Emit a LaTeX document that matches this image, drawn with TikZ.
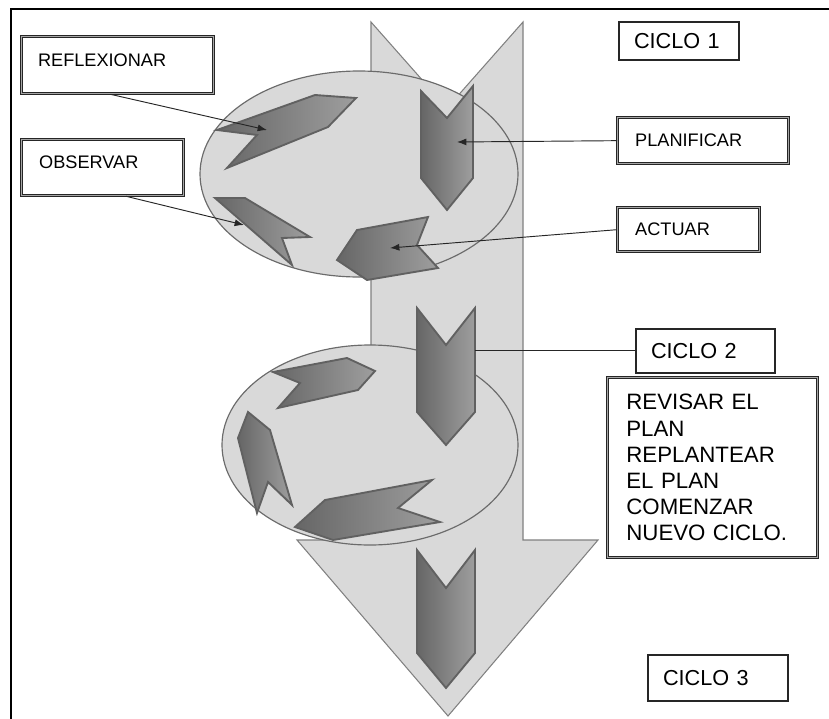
\documentclass[tikz,border=0pt]{standalone}
\usepackage{fontspec}
\setmainfont{Liberation Sans}
\usetikzlibrary{arrows.meta}

\tikzstyle{dbox} = [draw=black!85, double=black!35, double distance=0.8pt, line width=1.1pt, fill=white, anchor=north west, align=left, inner xsep=14pt, inner ysep=0pt, font=\fontsize{15.5}{18}\selectfont]
\tikzstyle{sbox} = [draw=black!85, line width=1.4pt, fill=white, anchor=north west, align=left, inner xsep=13pt, inner ysep=0pt, font=\fontsize{18.5}{21}\selectfont]
\tikzstyle{chev} = [draw=black!62, line width=1.6pt, left color=black!60, right color=black!38]
\tikzstyle{link} = [black!85, line width=0.8pt]

\begin{document}
\begin{tikzpicture}[x=0.03cm, y=-0.03cm, >={Latex[length=8pt,width=6pt]}]
	\useasboundingbox (0,0) rectangle (829,719);
	% frame
	\draw[line width=1.6pt] (11,719) -- (11,9) -- (829,9);
	% big arrow
	\draw[fill=black!15, draw=black!50, line width=0.9pt] (371,22) -- (447,108) -- (523,22) -- (523,540) -- (598,540) -- (448,716) -- (297,540) -- (371,540) -- cycle;
	% cycles
	\draw[fill=black!15, draw=black!58, line width=1pt] (359,174) ellipse [x radius=159, y radius=103];
	\draw[fill=black!15, draw=black!58, line width=1pt] (370,445) ellipse [x radius=148, y radius=100];
	% chevrons, cycle 1
	\draw[chev] (421,91) -- (447,118) -- (473,86) -- (473,178) -- (447,210) -- (421,178) -- cycle;
	\draw[chev] (217,130) -- (315,95) -- (356,98) -- (328,127) -- (227,168) -- (257,135) -- cycle;
	\draw[chev] (215,198) -- (245,198) -- (310,237) -- (282,238) -- (292,265) -- cycle;
	\draw[chev] (337,260) -- (357,230) -- (428,217) -- (417,245) -- (438,268) -- (367,280) -- cycle;
	% chevrons, cycle 2
	\draw[chev] (417,308) -- (446,345) -- (475,308) -- (475,412) -- (446,445) -- (417,412) -- cycle;
	\draw[chev] (273,372) -- (347,358) -- (375,371) -- (358,390) -- (278,408) -- (300,383) -- cycle;
	\draw[chev] (248,412) -- (270,430) -- (292,505) -- (268,482) -- (257,513) -- (238,438) -- cycle;
	\draw[chev] (295,527) -- (325,500) -- (432,480) -- (398,508) -- (440,522) -- (333,540) -- cycle;
	% chevron, cycle 3
	\draw[chev] (417,550) -- (446,588) -- (475,550) -- (475,653) -- (446,688) -- (417,653) -- cycle;
	% labels
	\node[dbox, minimum width=163.9pt, minimum height=48.7pt, text width=135.9pt, text depth=8pt] (reflexionar) at (21,36) {REFLEXIONAR};
	\node[dbox, minimum width=138.3pt, minimum height=47.8pt, text width=108.3pt, inner xsep=15pt, text depth=10pt] (observar) at (21,139) {OBSERVAR};
	\node[dbox, minimum width=146pt, minimum height=39.3pt, text width=116pt, inner xsep=15pt] (planificar) at (617,117) {PLANIFICAR};
	\node[dbox, minimum width=121.2pt, minimum height=37.6pt, text width=91.2pt, inner xsep=15pt] (actuar) at (617,207) {ACTUAR};
	\node[sbox, minimum width=102.4pt, minimum height=32.4pt, text width=76.4pt] (ciclo1) at (618,21) {CICLO 1};
	\node[sbox, minimum width=118.6pt, minimum height=37.6pt, text width=92.6pt] (ciclo2) at (635,328) {CICLO 2};
	\node[sbox, minimum width=119.5pt, minimum height=39.3pt, text width=93.5pt] (ciclo3) at (647,654) {CICLO 3};
	\node[dbox, minimum width=179.3pt, minimum height=153.6pt, text width=147.3pt, inner xsep=16pt, font=\fontsize{19}{22.3}\selectfont] (revisar) at (607,377) {REVISAR EL\\PLAN\\REPLANTEAR\\EL PLAN\\COMENZAR\\NUEVO CICLO.};
	% pointers
	\coordinate (tReflex) at (267,130);
	\coordinate (tObserv) at (244,225);
	\coordinate (tPlan) at (457,142);
	\coordinate (tActuar) at (390,248);
	\coordinate (tCiclo) at (475,345);
	\draw[link, ->] ([xshift=-6pt]reflexionar.south) -- (tReflex);
	\draw[link, ->] ([xshift=20pt]observar.south) -- (tObserv);
	\draw[link, ->] (planificar.west) -- (tPlan);
	\draw[link, ->] (actuar.west) -- (tActuar);
	\draw[link] (ciclo2.west) -- (ciclo2.west -| tCiclo);
\end{tikzpicture}
\end{document}
